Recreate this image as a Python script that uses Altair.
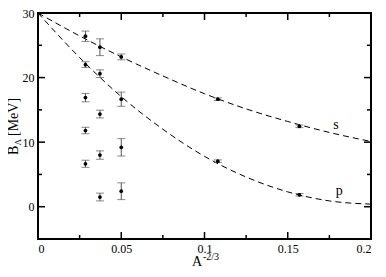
import altair as alt
import pandas as pd

# ---------------- data ----------------
pt_x = [0.0285, 0.0285, 0.0285, 0.0285, 0.0285,
        0.0372, 0.0372, 0.0372, 0.0372, 0.0372,
        0.05, 0.05, 0.05, 0.05,
        0.108, 0.108,
        0.157, 0.157]
pt_y = [26.4, 22.0, 16.9, 11.8, 6.65,
        24.7, 20.6, 14.35, 8.0, 1.5,
        23.2, 16.65, 9.2, 2.4,
        16.65, 7.05,
        12.45, 1.85]
pt_err = [0.8, 0.45, 0.65, 0.5, 0.55,
          1.3, 0.6, 0.6, 0.65, 0.6,
          0.45, 1.1, 1.35, 1.3,
          0.2, 0.2,
          0.2, 0.2]

curve_x = [0, 0.025, 0.05, 0.075, 0.1, 0.125, 0.15, 0.175, 0.2]
s_y = [30, 26.45, 23.2, 20.25, 17.5, 15.15, 13.2, 11.5, 10.1]
p_y = [30, 23.1, 17.05, 12.0, 7.8, 4.6, 2.3, 0.9, 0.4]

lab_text = ["s", "p"]
lab_x = [0.179, 0.181]
lab_y = [12.6, 2.4]

x_major = [0, 0.05, 0.1, 0.15, 0.2]
x_minor = [0.025, 0.075, 0.125, 0.175]
y_major = [0, 10, 20, 30]
y_minor = [5, 15, 25]

# ---------------- chart ----------------
W, H = 333, 226
FONT = "Liberation Serif"

xs = alt.Scale(domain=[0, 0.2], nice=False, zero=False)
ys = alt.Scale(domain=[-5, 30], nice=False, zero=False)
xaxis = alt.Axis(values=x_major, format="~g", ticks=False, domain=False, grid=False,
                 labelFont=FONT, labelFontSize=12, labelPadding=4, labelColor="black",
                 title=None)
yaxis = alt.Axis(values=y_major, format="d", ticks=False, domain=False, grid=False,
                 labelFont=FONT, labelFontSize=12, labelPadding=4, labelColor="black",
                 title=None)


def X(f="x"):
    return alt.X(f"{f}:Q", scale=xs, axis=xaxis)


def Y(f="y"):
    return alt.Y(f"{f}:Q", scale=ys, axis=yaxis)


pts = pd.DataFrame({
    "x": pt_x,
    "y": pt_y,
    "lo": [y - e for y, e in zip(pt_y, pt_err)],
    "hi": [y + e for y, e in zip(pt_y, pt_err)],
})

curves = pd.DataFrame({
    "x": curve_x + curve_x,
    "y": s_y + p_y,
    "series": ["s"] * len(curve_x) + ["p"] * len(curve_x),
})

labels = pd.DataFrame({"x": lab_x, "y": lab_y, "t": lab_text})

ERR = "#555555"

lines = alt.Chart(curves).mark_line(color="black", strokeWidth=1, strokeDash=[6, 4],
                                    interpolate="monotone").encode(
    x=X(), y=Y(), detail="series:N")

err_rule = alt.Chart(pts).mark_rule(color=ERR, strokeWidth=1).encode(
    x=X(), y=Y("lo"), y2="hi:Q")
cap_lo = alt.Chart(pts).mark_tick(color=ERR, orient="horizontal", size=8, thickness=1).encode(
    x=X(), y=Y("lo"))
cap_hi = alt.Chart(pts).mark_tick(color=ERR, orient="horizontal", size=8, thickness=1).encode(
    x=X(), y=Y("hi"))
dots = alt.Chart(pts).mark_circle(color="black", size=14, opacity=1).encode(x=X(), y=Y())

curve_labels = alt.Chart(labels).mark_text(font=FONT, fontSize=14, color="black").encode(
    x=X(), y=Y(), text="t:N")

# inward ticks on all four sides
xmaj = pd.DataFrame({"x": x_major})
xmin = pd.DataFrame({"x": x_minor})
ymaj = pd.DataFrame({"y": y_major})
ymin = pd.DataFrame({"y": y_minor})

tick_layers = []
for df, ln in [(xmaj, 7), (xmin, 4)]:
    tick_layers.append(alt.Chart(df).mark_rule(color="black", strokeWidth=1.5).encode(
        x=X(), y=alt.value(H), y2=alt.value(H - ln)))
    tick_layers.append(alt.Chart(df).mark_rule(color="black", strokeWidth=1.5).encode(
        x=X(), y=alt.value(0), y2=alt.value(ln)))
for df, ln in [(ymaj, 7), (ymin, 4)]:
    tick_layers.append(alt.Chart(df).mark_rule(color="black", strokeWidth=1.5).encode(
        y=Y(), x=alt.value(0), x2=alt.value(ln)))
    tick_layers.append(alt.Chart(df).mark_rule(color="black", strokeWidth=1.5).encode(
        y=Y(), x=alt.value(W), x2=alt.value(W - ln)))

# axis titles with sub/superscripts
one = pd.DataFrame({"k": [0]})


def txt(s, size, x, y, rot=False):
    enc = dict(x=alt.value(x), y=alt.value(y))
    if rot:
        enc["angle"] = alt.value(270)
    return alt.Chart(one).mark_text(text=s, font=FONT, fontSize=size, align="left",
                                    baseline="alphabetic", color="black").encode(**enc)


yt_B = txt("B", 14, -20, 142, rot=True)
yt_L = txt("Λ", 9, -17, 132.5, rot=True)
yt_M = txt("[MeV]", 14, -20, 123, rot=True)
xt_A = txt("A", 14, 154, 253)
xt_S = txt("-2/3", 10, 165, 247)

chart = alt.layer(
    lines, err_rule, cap_lo, cap_hi, dots, curve_labels, *tick_layers,
    yt_B, yt_L, yt_M, xt_A, xt_S
).properties(
    width=W, height=H,
    autosize=alt.AutoSizeParams(type="none"),
    padding={"left": 30, "top": 5, "right": 7, "bottom": 30},
    background="white",
).configure_view(stroke="black", strokeWidth=2)

chart.save("out.html", embed_options={"renderer": "svg", "actions": False})
